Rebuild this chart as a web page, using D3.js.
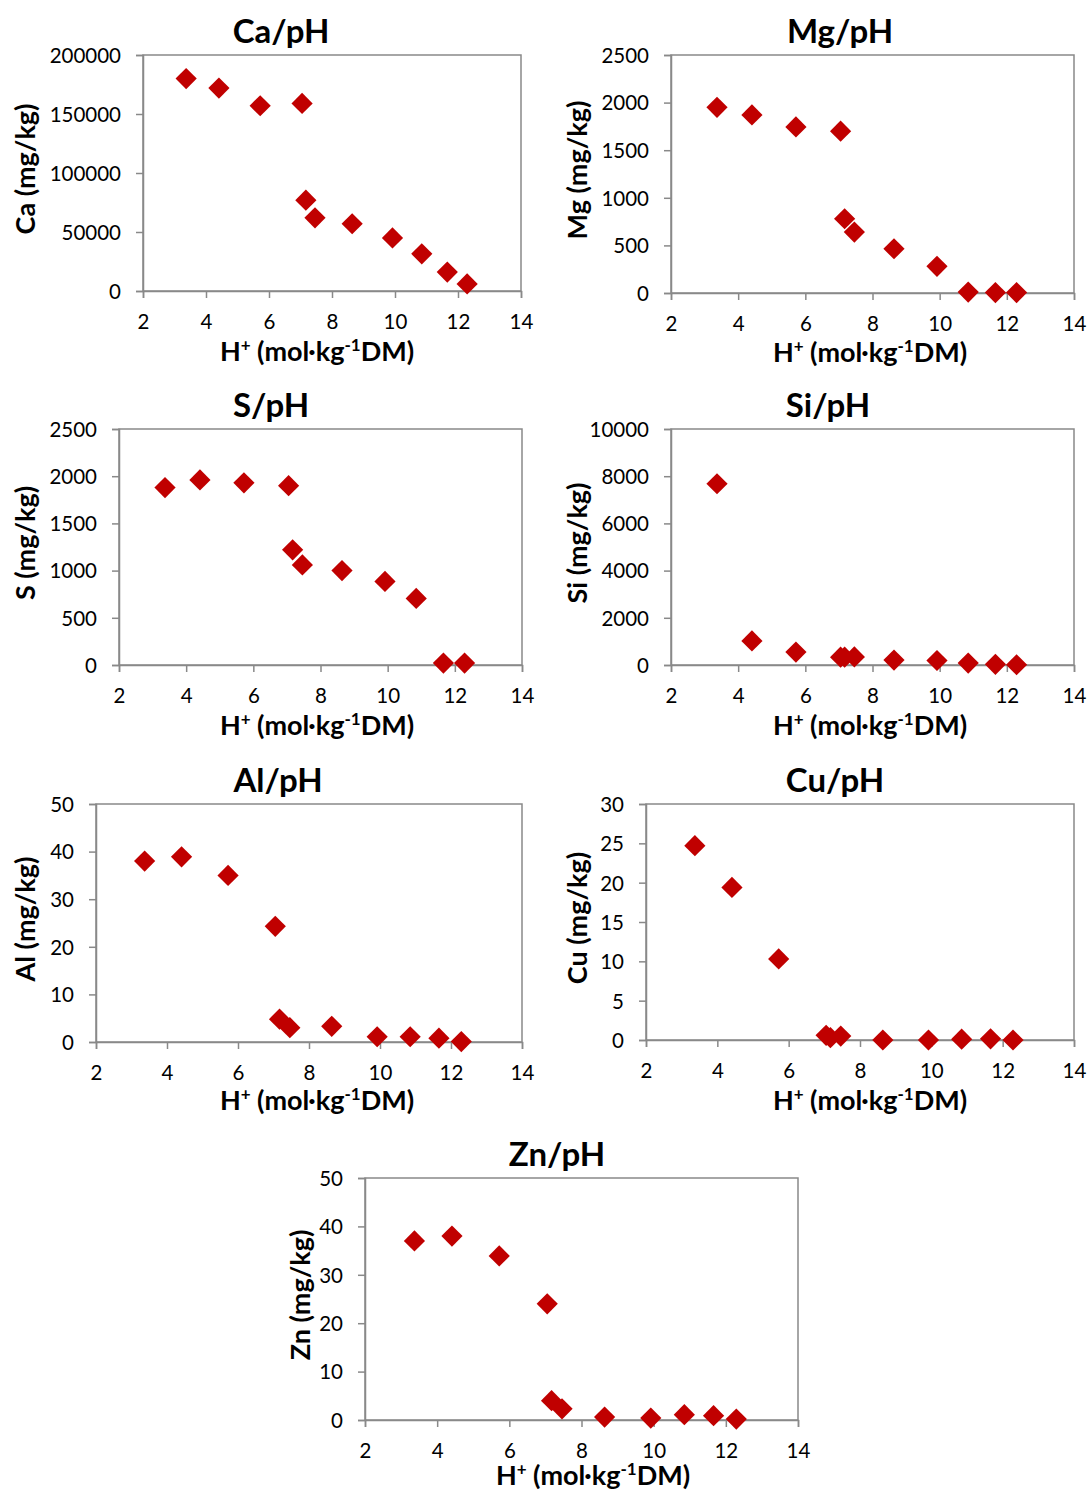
<!DOCTYPE html>
<html><head><meta charset="utf-8">
<script src="https://cdn.jsdelivr.net/npm/d3@7"></script>
<style>
html,body{margin:0;padding:0;background:#fff;}
svg{display:block;font-family:Lato,"Open Sans",sans-serif;}
</style></head>
<body><svg id="c" width="1089" height="1490"></svg>
<script>
// ---- data ----
const pH = [3.37, 4.41, 5.72, 7.05, 7.17, 7.46, 8.64, 9.92, 10.85, 11.66, 12.29];
const caValues = [180000, 172000, 157000, 159000, 77000, 62000, 57000, 45000, 31500, 16000, 6000];
const mgValues = [1950, 1870, 1745, 1700, 780, 640, 465, 280, 10, 5, 5];
const sValues  = [1880, 1960, 1930, 1900, 1220, 1060, 1000, 885, 705, 20, 20];
const siValues = [7680, 1020, 550, 330, 330, 340, 210, 190, 80, 30, 10];
const alValues = [38.0, 38.9, 35.0, 24.3, 4.8, 3.0, 3.3, 1.1, 1.1, 0.8, 0.1];
const cuValues = [24.7, 19.4, 10.3, 0.6, 0.3, 0.5, 0.0, 0.0, 0.1, 0.15, 0.0];
const znValues = [37.0, 38.0, 33.9, 24.0, 4.0, 2.3, 0.6, 0.4, 1.1, 0.9, 0.2];
const xTicks = [2, 4, 6, 8, 10, 12, 14];
const caTicks = [0, 50000, 100000, 150000, 200000];
const mgTicks = [0, 500, 1000, 1500, 2000, 2500];
const sTicks = [0, 500, 1000, 1500, 2000, 2500];
const siTicks = [0, 2000, 4000, 6000, 8000, 10000];
const alTicks = [0, 10, 20, 30, 40, 50];
const cuTicks = [0, 5, 10, 15, 20, 25, 30];
const znTicks = [0, 10, 20, 30, 40, 50];
const titles = ["Ca/pH", "Mg/pH", "S/pH", "Si/pH", "Al/pH", "Cu/pH", "Zn/pH"];
const elements = ["Ca", "Mg", "S", "Si", "Al", "Cu", "Zn"];

// ---- layout ----
const panels = [
  {vals: caValues, ticks: caTicks, L:143, R:521, T:55,  B:291, tx:281, xtx:317, ytx:25,  xo:70},
  {vals: mgValues, ticks: mgTicks, L:671, R:1074,T:55,  B:293, tx:840, xtx:870, ytx:577, xo:69},
  {vals: sValues,  ticks: sTicks,  L:119, R:522, T:429, B:665, tx:271, xtx:317, ytx:25,  xo:70},
  {vals: siValues, ticks: siTicks, L:671, R:1074,T:429, B:665, tx:828, xtx:870, ytx:577, xo:70},
  {vals: alValues, ticks: alTicks, L:96,  R:522, T:804, B:1042,tx:278, xtx:317, ytx:25,  xo:68},
  {vals: cuValues, ticks: cuTicks, L:646, R:1074,T:804, B:1040,tx:835, xtx:870, ytx:577, xo:70},
  {vals: znValues, ticks: znTicks, L:365, R:798, T:1178,B:1420,tx:557, xtx:593, ytx:300, xo:65}
];

const svg = d3.select("#c");
const gray = "#898989";
const red = "#C00000";
const diamond = d3.symbol().type(d3.symbolSquare).size(225);

panels.forEach((p, i) => {
  const x = d3.scaleLinear().domain([2, 14]).range([p.L, p.R]);
  const y = d3.scaleLinear().domain([0, d3.max(p.ticks)]).range([p.B, p.T]);
  const g = svg.append("g");

  g.append("rect").attr("x", p.L).attr("y", p.T).attr("width", p.R - p.L).attr("height", p.B - p.T)
    .attr("fill", "none").attr("stroke", gray).attr("stroke-width", 1.5);

  const xa = g.append("g").attr("transform", `translate(0,${p.B})`)
    .call(d3.axisBottom(x).tickValues(xTicks).tickSize(7).tickPadding(16).tickFormat(d3.format("d")));
  const ya = g.append("g").attr("transform", `translate(${p.L},0)`)
    .call(d3.axisLeft(y).tickValues(p.ticks).tickSize(7).tickPadding(15).tickFormat(d3.format("d")));
  [xa, ya].forEach(a => {
    a.select(".domain").attr("stroke", gray).attr("stroke-width", 1.5);
    a.selectAll(".tick line").attr("stroke", gray).attr("stroke-width", 1.5);
    a.selectAll(".tick text").attr("fill", "#000").style("font-size", "20.5px").style("font-family", "Lato");
  });
  ya.selectAll(".tick text").attr("dy", "0.36em");

  g.selectAll("path.pt").data(pH.map((h, k) => [h, p.vals[k]])).enter().append("path")
    .attr("class", "pt")
    .attr("d", diamond)
    .attr("transform", d => `translate(${x(d[0])},${y(d[1])}) rotate(45)`)
    .attr("fill", red);

  g.append("text").attr("x", p.tx).attr("y", p.T - 12).attr("text-anchor", "middle")
    .style("font-size", "33px").style("font-weight", "bold").text(titles[i]);

  g.append("text").attr("transform", `translate(${p.ytx + 10},${(p.T + p.B) / 2 - 4}) rotate(-90)`)
    .attr("text-anchor", "middle").style("font-size", "27px").style("font-weight", "bold")
    .text(elements[i] + " (mg/kg)");

  const xt = g.append("text").attr("x", p.xtx).attr("y", p.B + p.xo).attr("text-anchor", "middle")
    .style("font-size", "27px").style("font-weight", "bold");
  xt.append("tspan").text("H");
  xt.append("tspan").attr("dy", -10).style("font-size", "17px").text("+");
  xt.append("tspan").attr("dy", 10).text(" (mol·kg");
  xt.append("tspan").attr("dy", -10).style("font-size", "17px").text("-1");
  xt.append("tspan").attr("dy", 10).text("DM)");
});
</script>
</body></html>
